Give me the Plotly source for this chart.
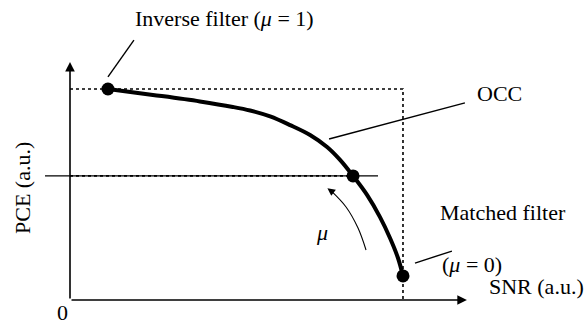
import plotly.graph_objects as go

# Optimal characteristic curve (OCC), arbitrary units
occ_snr = [0.114, 0.249, 0.390, 0.489, 0.541, 0.601, 0.661, 0.721, 0.772, 0.811,
           0.850, 0.892, 0.931, 0.961, 0.985, 1.000]
occ_pce = [1.000, 0.972, 0.941, 0.915, 0.898, 0.870, 0.829, 0.782, 0.725, 0.664,
           0.588, 0.498, 0.393, 0.294, 0.199, 0.114]

# Marked filters on the curve
pt_snr = [0.114, 0.850, 1.000]
pt_pce = [1.000, 0.588, 0.114]

# Mu direction arrow path
mu_snr = [0.889, 0.865, 0.829, 0.785]
mu_pce = [0.237, 0.341, 0.441, 0.516]

X_RANGE = [-0.2102, 1.5556]
Y_RANGE = [-0.1185, 1.4218]
FONT = "Liberation Serif"
FS = 22

fig = go.Figure()

# dotted reference lines
fig.add_trace(go.Scatter(x=[0, 1.0, 1.0], y=[1.0, 1.0, 0], mode="lines",
                         line=dict(color="black", width=1.6, dash="dot"), hoverinfo="skip"))
fig.add_trace(go.Scatter(x=[-0.075, 0.925], y=[0.588, 0.588], mode="lines",
                         line=dict(color="black", width=1.2), hoverinfo="skip"))
fig.add_trace(go.Scatter(x=[0, 0.85], y=[0.588, 0.588], mode="lines",
                         line=dict(color="black", width=1.8, dash="dot"), hoverinfo="skip"))

# OCC curve
fig.add_trace(go.Scatter(x=occ_snr, y=occ_pce, mode="lines",
                         line=dict(color="black", width=4, shape="spline", smoothing=1.0),
                         hoverinfo="skip"))
fig.add_trace(go.Scatter(x=pt_snr, y=pt_pce, mode="markers",
                         marker=dict(color="black", size=13), hoverinfo="skip"))

# mu arrow
fig.add_trace(go.Scatter(x=mu_snr, y=mu_pce, mode="lines",
                         line=dict(color="black", width=1.1, shape="spline"), hoverinfo="skip"))

# leader lines
leaders = [((0.114, 1.057), (0.192, 1.232)),
           ((0.778, 0.763), (1.186, 0.934)),
           ((1.036, 0.175), (1.147, 0.232))]
for (x0, y0), (x1, y1) in leaders:
    fig.add_shape(type="line", x0=x0, y0=y0, x1=x1, y1=y1,
                  line=dict(color="black", width=1.4))

# axes with arrows
fig.add_annotation(x=0, y=1.128, ax=0, ay=0, xref="x", yref="y", axref="x", ayref="y",
                   showarrow=True, arrowhead=2, arrowsize=1.2, arrowwidth=1.6, arrowcolor="black", text="")
fig.add_annotation(x=1.192, y=0, ax=0, ay=0, xref="x", yref="y", axref="x", ayref="y",
                   showarrow=True, arrowhead=2, arrowsize=1.2, arrowwidth=1.6, arrowcolor="black", text="")
fig.add_annotation(x=mu_snr[-1] - 0.012, y=mu_pce[-1] + 0.014, ax=mu_snr[-1] + 0.01, ay=mu_pce[-1] - 0.012,
                   xref="x", yref="y", axref="x", ayref="y",
                   showarrow=True, arrowhead=2, arrowsize=1.4, arrowwidth=1.1, arrowcolor="black", text="")

labels = [
    ("Inverse filter (<i>μ</i> = 1)", 0.465, 1.336, 0),
    ("OCC", 1.291, 0.981, 0),
    ("Matched filter", 1.300, 0.417, 0),
    ("(<i>μ</i> = 0)", 1.207, 0.166, 0),
    ("SNR (a.u.)", 1.402, 0.062, 0),
    ("0", -0.024, -0.057, 0),
    ("<i>μ</i>", 0.757, 0.318, 0),
    ("PCE (a.u.)", -0.141, 0.531, -90),
]
for txt, x, y, ang in labels:
    fig.add_annotation(x=x, y=y, xref="x", yref="y", text=txt, showarrow=False,
                       textangle=ang, font=dict(family=FONT, size=FS, color="black"))

fig.update_layout(
    width=588, height=325, margin=dict(l=0, r=0, t=0, b=0),
    paper_bgcolor="white", plot_bgcolor="white", showlegend=False,
    xaxis=dict(range=X_RANGE, visible=False, fixedrange=True),
    yaxis=dict(range=Y_RANGE, visible=False, fixedrange=True),
)
fig.write_html("out.html", config={"displayModeBar": False},
               post_script="document.body.style.margin='0';document.body.style.overflow='hidden';")
